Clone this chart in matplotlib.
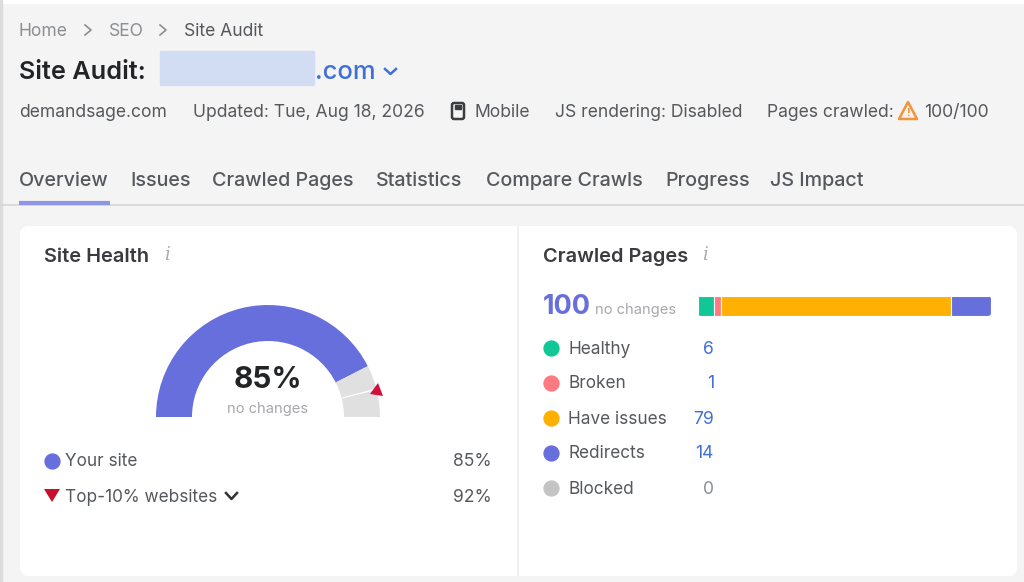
import matplotlib
matplotlib.use("Agg")
import matplotlib.pyplot as plt
from matplotlib.patches import Wedge, FancyBboxPatch, Polygon, Rectangle

plt.rcParams['font.family'] = ['Inter', 'DejaVu Sans']

# breadcrumb and tabs
crumbs = ["Home", "SEO", "Site Audit"]
tabs = ["Overview", "Issues", "Crawled Pages", "Statistics", "Compare Crawls", "Progress", "JS Impact"]

# gauge
your_site = 85
top_10 = 92

# crawled pages
page_labels = ["Healthy", "Broken", "Have issues", "Redirects", "Blocked"]
page_values = [6, 1, 79, 14, 0]
# the bar is not true to scale, small parts are drawn wider, so these are read off the bar
bar_shares = [5.4, 2.5, 78.0, 13.5, 0]
page_colors = ["#10c795", "#ff7a80", "#ffb000", "#676fdc", "#c4c4c4"]

TEXT = "#55585c"
GREY = "#8b8e92"
DARK = "#232426"
BLUE = "#3f6fd8"
PURPLE = "#676fdc"

fig = plt.figure(figsize=(10.24, 5.82), dpi=100, facecolor="#f4f4f4")
ax = fig.add_axes([0, 0, 1, 1])
ax.set_xlim(0, 1024)
ax.set_ylim(582, 0)
ax.axis("off")

# page edges
ax.add_patch(Rectangle((0, 0), 1024, 3, color="white", zorder=1))
ax.add_patch(Rectangle((0, 0), 2, 582, color="#dcdcdc", zorder=1))

# breadcrumb
ax.text(19, 31.5, crumbs[0], fontsize=12.6, color=GREY, va="center")
ax.plot([85, 91, 85], [25, 30, 35], color=GREY, lw=1.2)
ax.text(109, 31.5, crumbs[1], fontsize=12.6, color=GREY, va="center")
ax.plot([160, 166, 160], [25, 30, 35], color=GREY, lw=1.2)
ax.text(184, 31.5, crumbs[2], fontsize=12.6, color=TEXT, va="center")

# title
ax.text(19, 72.5, "Site Audit:", fontsize=18.2, color=DARK, va="center", fontweight="semibold")
ax.text(315, 72.5, ".com", fontsize=18.4, color=BLUE, va="center", fontweight="medium")
ax.add_patch(Rectangle((160, 51), 154, 34, color="#d2ddf3", zorder=3))
ax.plot([385, 390.5, 396], [69, 74, 69], color=BLUE, lw=1.8)

# info row
ax.text(19, 112.5, "demandsage.com", fontsize=12.6, color=TEXT, va="center")
ax.text(193, 112.5, "Updated: Tue, Aug 18, 2026", fontsize=12.6, color=TEXT, va="center")
ax.add_patch(FancyBboxPatch((452, 103), 12, 16, boxstyle="round,pad=0,rounding_size=2",
                            fc="none", ec="#3c3d40", lw=1.8))
ax.add_patch(Rectangle((455, 105), 6, 4, color="#3c3d40"))
ax.text(474, 112.5, "Mobile", fontsize=12.6, color=TEXT, va="center")
ax.text(555, 112.5, "JS rendering: Disabled", fontsize=12.6, color=TEXT, va="center")
ax.text(767, 112.5, "Pages crawled:", fontsize=12.6, color=TEXT, va="center")
ax.add_patch(Polygon([(908, 102), (899, 119), (917, 119)], closed=True, fc="#fdf1e4",
                     ec="#f0953f", lw=1.8, joinstyle="round"))
ax.text(908, 113, "!", fontsize=8, color="#f0953f", ha="center", va="center", fontweight="bold")
ax.text(924, 112.5, "100/100", fontsize=12.7, color=TEXT, va="center")

# tabs
tab_x = [19, 130, 212, 376, 486, 665, 770]
for x, tab in zip(tab_x, tabs):
    ax.text(x, 180.5, tab, fontsize=14.2, color=TEXT, va="center", fontweight="medium")
ax.plot([0, 1024], [205, 205], color="#d6d6d6", lw=1.2)
ax.plot([19, 110], [203, 203], color="#8f95e6", lw=3, solid_capstyle="butt")

# card
ax.add_patch(FancyBboxPatch((20, 226), 997, 350, boxstyle="round,pad=0,rounding_size=9",
                            fc="white", ec="none", zorder=1))
ax.plot([517.5, 517.5], [226, 576], color="#eeeeee", lw=1.2, zorder=2)

# site health
ax.text(44, 257.5, "Site Health", fontsize=14.4, color="#3a3b3e", va="center", fontweight="semibold", zorder=3)
ax.text(167, 255, "i", fontsize=13, color="#a9abae", va="center", ha="center", family="DejaVu Serif",
        style="italic", zorder=3)

# y axis is flipped so angles run clockwise from the left end of the gauge
cx, cy, r_out, r_in = 268, 417, 112, 76
def ang(pct):
    return 180 + pct * 1.8

ax.add_patch(Wedge((cx, cy), r_out, ang(0), ang(your_site), width=r_out - r_in, fc=PURPLE, ec="none", zorder=3))
ax.add_patch(Wedge((cx, cy), r_out, ang(your_site), ang(100), width=r_out - r_in, fc="#e0e0e0", ec="none", zorder=3))
ax.add_patch(Wedge((cx, cy), r_out, ang(top_10) - 0.4, ang(top_10) + 0.4, width=r_out - r_in, fc="white",
                   ec="none", zorder=4))
ax.add_patch(Polygon([(378, 383), (370, 394), (383, 396)], closed=True, fc="#d0103a", ec="none", zorder=5))

ax.text(268, 380, f"{your_site}%", fontsize=21.4, color=DARK, ha="center", va="center", fontweight="bold", zorder=4)
ax.text(268, 409, "no changes", fontsize=10.6, color="#a6a8ab", ha="center", va="center", zorder=4)

# gauge legend
ax.scatter([52], [461], s=115, color=PURPLE, zorder=3)
ax.text(65, 462, "Your site", fontsize=12.4, color=TEXT, va="center", zorder=3)
ax.text(492, 462, f"{your_site}%", fontsize=12.6, color=TEXT, va="center", ha="right", zorder=3)
ax.add_patch(Polygon([(44, 489), (60, 489), (52, 502)], closed=True, fc="#c8102e", ec="none", zorder=3))
ax.text(65, 497, "Top-10% websites", fontsize=12.4, color=TEXT, va="center", zorder=3)
ax.plot([226, 231.5, 237], [493, 499, 493], color="#333333", lw=1.8, zorder=3)
ax.text(492, 497, f"{top_10}%", fontsize=12.6, color=TEXT, va="center", ha="right", zorder=3)

# crawled pages
ax.text(543, 257.5, "Crawled Pages", fontsize=14.4, color="#3a3b3e", va="center", fontweight="semibold", zorder=3)
ax.text(705, 255, "i", fontsize=13, color="#a9abae", va="center", ha="center", family="DejaVu Serif",
        style="italic", zorder=3)
ax.text(543, 306.5, str(sum(page_values)), fontsize=19.4, color=PURPLE, va="center", fontweight="bold", zorder=3)
ax.text(595, 310, "no changes", fontsize=10.6, color="#a6a8ab", va="center", zorder=3)

# stacked bar, clipped to a rounded box
bar_x0, bar_w, bar_y, bar_h = 698, 293, 296, 20
clip = FancyBboxPatch((bar_x0, bar_y), bar_w, bar_h, boxstyle="round,pad=0,rounding_size=3",
                      fc="none", ec="none", zorder=3)
ax.add_patch(clip)
left = bar_x0
for share, color in zip(bar_shares, page_colors):
    w = share / sum(bar_shares) * bar_w
    if w == 0:
        continue
    bars = ax.barh(bar_y + bar_h / 2, w, height=bar_h, left=left, color=color, edgecolor="white",
                   linewidth=0.8, zorder=3)
    bars[0].set_clip_path(clip)
    left += w

# crawled pages legend
row_y = [348, 383, 418, 453, 488]
for y, label, value, color in zip(row_y, page_labels, page_values, page_colors):
    ax.scatter([551], [y], s=115, color=color, zorder=3)
    ax.text(568, y + 1, label, fontsize=12.4, color=TEXT, va="center", zorder=3)
    ax.text(714, y + 1, str(value), fontsize=12.6, color=BLUE if value else GREY, va="center", ha="right", zorder=3)

fig.savefig("out.png", dpi=100, facecolor=fig.get_facecolor())
